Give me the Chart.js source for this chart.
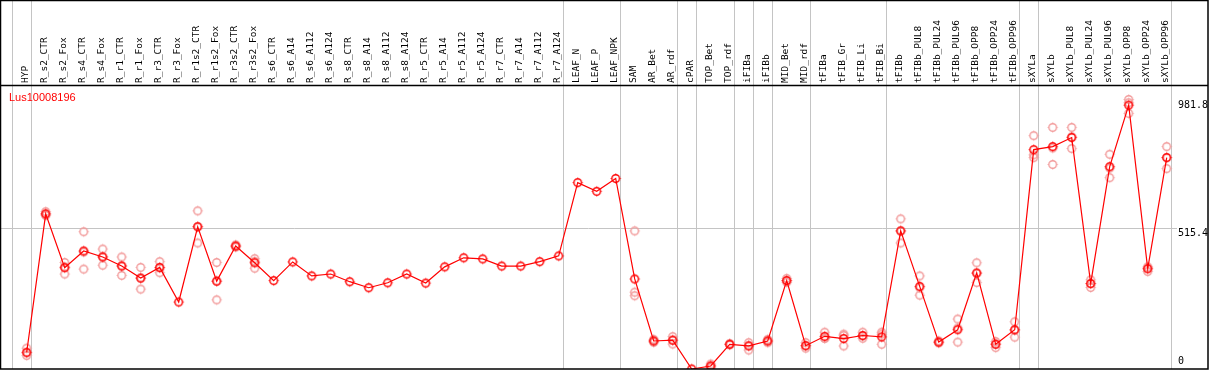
<!DOCTYPE html>
<html>
<head>
<meta charset="utf-8">
<script src="https://cdn.jsdelivr.net/npm/chart.js@4/dist/chart.umd.min.js"></script>
<style>
  html, body { margin: 0; padding: 0; background: #fff; }
  #wrap { width: 1209px; height: 370px; }
</style>
</head>
<body>
<div id="wrap"><canvas id="chart" width="1209" height="370"></canvas></div>
<script>
// gene shown
const geneName = 'Lus10008196';

// sample names (x categories)
const categories = [
  'HYP', 'R_s2_CTR', 'R_s2_Fox', 'R_s4_CTR', 'R_s4_Fox', 'R_r1_CTR', 'R_r1_Fox',
  'R_r3_CTR', 'R_r3_Fox', 'R_r1s2_CTR', 'R_r1s2_Fox', 'R_r3s2_CTR', 'R_r3s2_Fox',
  'R_s6_CTR', 'R_s6_A14', 'R_s6_A112', 'R_s6_A124', 'R_s8_CTR', 'R_s8_A14',
  'R_s8_A112', 'R_s8_A124', 'R_r5_CTR', 'R_r5_A14', 'R_r5_A112', 'R_r5_A124',
  'R_r7_CTR', 'R_r7_A14', 'R_r7_A112', 'R_r7_A124', 'LEAF_N', 'LEAF_P', 'LEAF_NPK',
  'SAM', 'AR_Bet', 'AR_rdf', 'cPAR', 'TOP_Bet', 'TOP_rdf', 'iFIBa', 'iFIBb',
  'MID_Bet', 'MID_rdf', 'tFIBa', 'tFIB_Gr', 'tFIB_Li', 'tFIB_Bi', 'tFIBb',
  'tFIBb_PUL8', 'tFIBb_PUL24', 'tFIBb_PUL96', 'tFIBb_OPP8', 'tFIBb_OPP24', 'tFIBb_OPP96',
  'sXYLa', 'sXYLb', 'sXYLb_PUL8', 'sXYLb_PUL24', 'sXYLb_PUL96', 'sXYLb_OPP8',
  'sXYLb_OPP24', 'sXYLb_OPP96'
];

// mean expression per sample
const means = [
  61, 565, 369, 430, 408, 375, 331, 370, 244, 518, 320, 448, 387,
  322, 390, 339, 346, 318, 296, 314, 346, 313, 372, 405, 401, 375, 375, 391, 412,
  679, 647, 694,
  328, 102, 105, 0, 11, 90, 84, 102, 322, 85, 119, 111, 122, 117, 503,
  301, 98, 143, 350, 90, 143,
  799, 810, 843, 311, 737, 961, 365, 770
];

// replicate values (null = no replicate drawn)
const rep1 = [
  76, 573, 388, 500, 437, 408, 370, 391, null, 576, 388, 452, 402,
  null, null, null, null, null, null, null, null, null, null, null, null, null, null, null, null,
  null, null, null,
  503, 108, 118, null, 18, 92, 96, 108, 330, 96, 134, 122, 134, 134, 547,
  339, 102, 182, 387, 100, 172,
  850, 880, 880, 325, 782, 981.8, 368, 810
];
const rep2 = [
  58, 559, 346, 364, 378, 341, 291, 351, null, 459, 252, 448, 367,
  null, null, null, null, null, null, null, null, null, null, null, null, null, null, null, null,
  null, null, null,
  280, 97, 91, null, 5, 88, 69, 96, 316, 76, 112, 84, 112, 90, 459,
  269, 95, 98, 315, 78, 116,
  780, 745, 803, 297, 697, 931, 355, 730
];
const rep3 = [
  49, 565, 372, 426, 409, 376, 332, 368, null, 519, 320, 444, 392,
  null, null, null, null, null, null, null, null, null, null, null, null, null, null, null, null,
  null, null, null,
  267, 102, 105, null, 11, 90, 86, 102, 322, 84, 112, 127, 120, 127, 503,
  296, 98, 149, 348, 92, 141,
  770, 805, 846, 311, 732, 970, 372, 770
];

// last sample index of each group (-1 = before the first)
const groupEnds = [-1, 0, 28, 31, 34, 35, 37, 38, 39, 41, 45, 52, 53, 60];

// y axis marks
const yMax = 1030.8;
const yLabels = [981.8, 515.4, 0];

function markerImage(color) {
  const c = document.createElement('canvas');
  c.width = 13; c.height = 13;
  const g = c.getContext('2d');
  g.strokeStyle = color;
  g.lineWidth = 1.4;
  g.beginPath();
  g.arc(6.5, 6.5, 3.8, 0, Math.PI * 2);
  g.stroke();
  g.lineWidth = 1;
  g.beginPath();
  g.moveTo(6.5, 1.5); g.lineTo(6.5, 3);
  g.moveTo(6.5, 10); g.lineTo(6.5, 11.5);
  g.moveTo(1.5, 6.5); g.lineTo(3, 6.5);
  g.moveTo(10, 6.5); g.lineTo(11.5, 6.5);
  g.stroke();
  return c;
}

const meanMark = markerImage('#ff0000');
const repMark = markerImage('#f29a9a');

const toPoints = arr => arr.map((v, i) => (v === null ? null : { x: i, y: v })).filter(p => p);
const repPoints = [].concat(toPoints(rep1), toPoints(rep2), toPoints(rep3));

const framePlugin = {
  id: 'frame',
  beforeDatasetsDraw(chart) {
    const { ctx, chartArea, scales } = chart;
    const x = scales.x, y = scales.y;
    ctx.save();
    ctx.strokeStyle = '#c4c4c4';
    ctx.lineWidth = 1;
    // group separators through the whole height
    groupEnds.forEach(i => {
      const px = Math.round(x.getPixelForValue(i + 0.2)) + 0.5;
      ctx.beginPath();
      ctx.moveTo(px, 0);
      ctx.lineTo(px, chartArea.bottom);
      ctx.stroke();
    });
    // middle grid line
    const my = Math.round(y.getPixelForValue(yLabels[1])) + 0.5;
    ctx.beginPath();
    ctx.moveTo(0, my);
    ctx.lineTo(1177, my);
    ctx.stroke();
    ctx.restore();
  },
  afterDraw(chart) {
    const { ctx, chartArea, scales } = chart;
    const x = scales.x, y = scales.y;
    ctx.save();
    // borders
    ctx.strokeStyle = '#000';
    ctx.lineWidth = 1.5;
    ctx.strokeRect(0.5, 0.5, chartArea.right - 0.5, chartArea.bottom - 0.5);
    ctx.beginPath();
    ctx.moveTo(0, 85.5);
    ctx.lineTo(chartArea.right, 85.5);
    ctx.stroke();

    // sample labels, rotated
    ctx.fillStyle = '#000';
    ctx.font = '9.5px "DejaVu Sans Mono"';
    ctx.textAlign = 'left';
    ctx.textBaseline = 'middle';
    categories.forEach((name, i) => {
      ctx.save();
      ctx.translate(x.getPixelForValue(i) - 1, 83);
      ctx.rotate(-Math.PI / 2);
      ctx.fillText(name, 0, 0);
      ctx.restore();
    });

    // gene name
    ctx.fillStyle = '#ff0000';
    ctx.font = '11px "Liberation Sans"';
    ctx.textBaseline = 'alphabetic';
    ctx.fillText(geneName, 9, 101);

    // y labels at the right
    ctx.fillStyle = '#000';
    ctx.font = '10px "DejaVu Sans Mono"';
    ctx.textBaseline = 'top';
    yLabels.forEach(v => {
      let py = y.getPixelForValue(v) + 1;
      if (py > chartArea.bottom - 14) py = chartArea.bottom - 13;
      ctx.fillText(String(v), 1178, py);
    });
    ctx.restore();
  }
};

new Chart(document.getElementById('chart'), {
  type: 'line',
  data: {
    datasets: [
      {
        label: 'mean',
        data: means.map((v, i) => ({ x: i, y: v })),
        borderColor: '#ff0000',
        borderWidth: 1.2,
        pointStyle: meanMark,
        pointRadius: 5,
        tension: 0,
        order: 0
      },
      {
        label: 'replicates',
        data: repPoints,
        showLine: false,
        pointStyle: repMark,
        pointRadius: 5,
        order: 1
      }
    ]
  },
  options: {
    responsive: false,
    devicePixelRatio: 1,
    animation: false,
    layout: { autoPadding: false, padding: { left: 1, right: 1, top: 86, bottom: 1 } },
    plugins: {
      legend: { display: false },
      tooltip: { enabled: false }
    },
    scales: {
      x: { type: 'linear', min: -25.7 / 19, max: 60 + 41.3 / 19, display: false },
      y: { type: 'linear', min: 0, max: yMax, display: false }
    }
  },
  plugins: [framePlugin]
});
</script>
</body>
</html>
